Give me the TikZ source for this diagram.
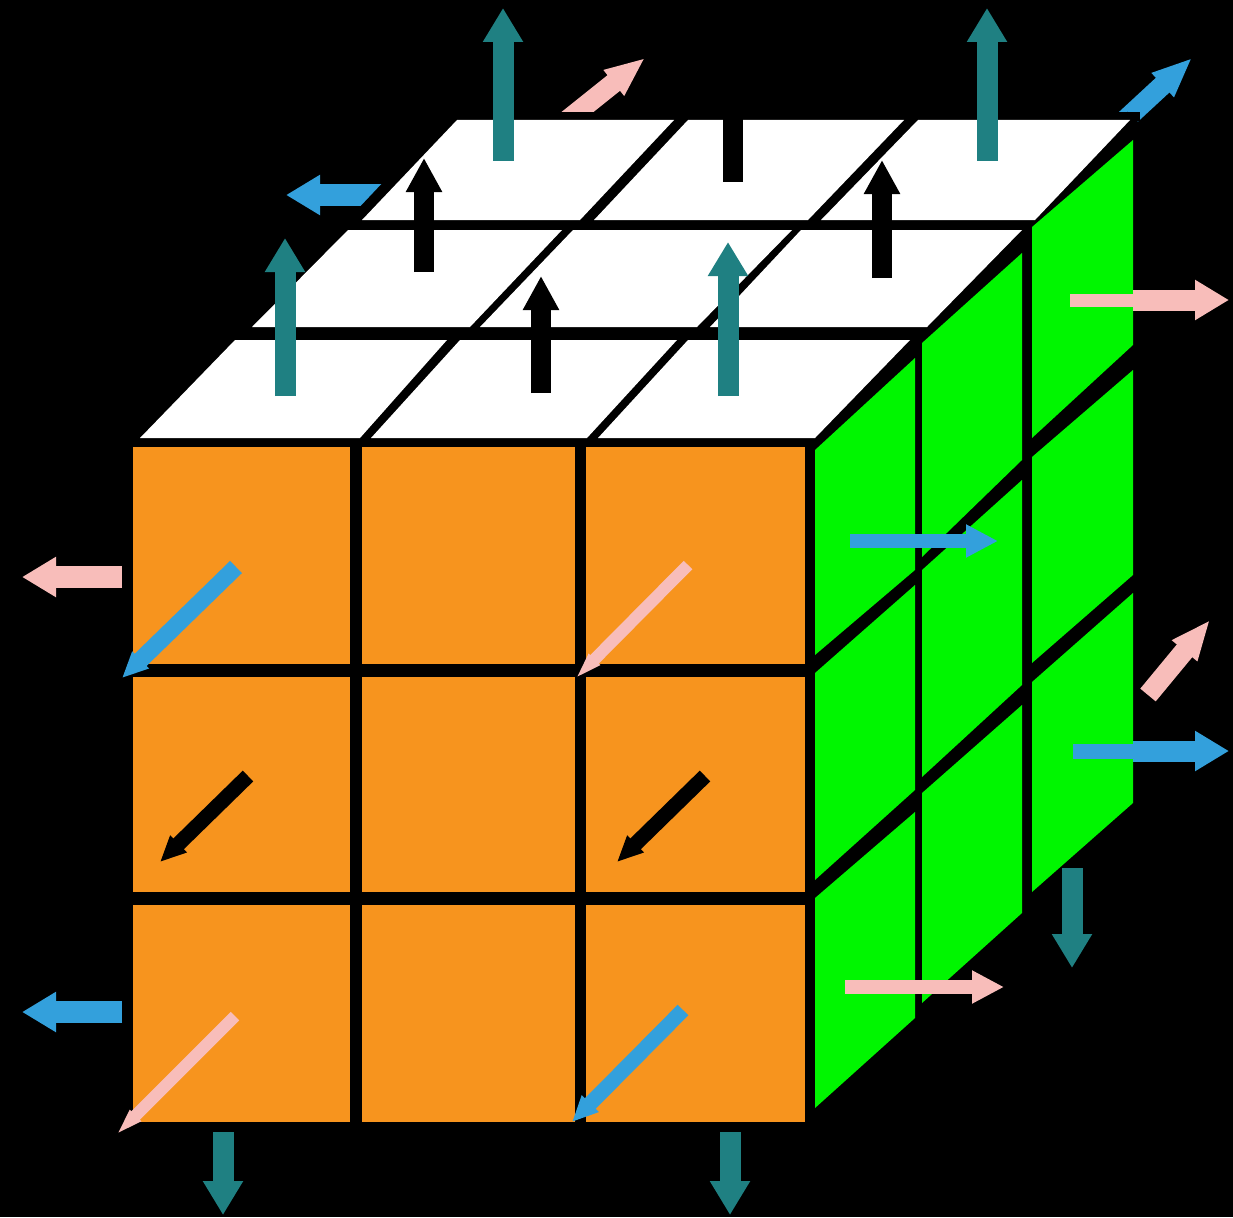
\documentclass[tikz,border=0pt]{standalone}
\usetikzlibrary{arrows.meta}
\definecolor{cteal}{HTML}{1F8082}
\definecolor{cpink}{HTML}{F8BDBA}
\definecolor{cblue}{HTML}{33A0DC}
\definecolor{corange}{HTML}{F7941E}
\definecolor{cgreen}{HTML}{00F600}
\tikzset{
  arrowbase/.style={line width=21pt,-{Triangle[width=38pt,length=34pt]}},
  blackarrow/.style={line width=20pt,-{Triangle[width=34pt,length=34pt]}},
  thinarrow/.style={line width=14pt,-{Triangle[width=31pt,length=32pt]}},
  squatarrow/.style={line width=20pt,-{Triangle[width=30pt,length=40pt]}},
  diagarrow/.style={line width=15pt,-{Triangle[width=22pt,length=26pt]}},
  fineline/.style={line width=12pt,-{Triangle[width=13pt,length=32pt]}},
  topcell/.style={fill=white},
  sidecell/.style={fill=cgreen},
  frontcell/.style={fill=corange},
}
\begin{document}
\begin{tikzpicture}[x=1pt,y=-1pt]
\fill[black] (0,0) rectangle (1233,1217);
\useasboundingbox (0,0) rectangle (1233,1217);
% arrows lying behind the top face
\draw[arrowbase,cblue,line width=21pt] (400,195) -- (286,195);
\draw[squatarrow,cpink] (565,122) -- (645,58);
\draw[squatarrow,cblue] (1112,132) -- (1192,58);
\fill[black] (450,112) rectangle (1140,121);
\draw[black,line width=22pt] (357,226) -- (457,120);
\draw[black,line width=18pt] (1134,118) -- (1035,220);
% front face
\fill[frontcell] (133,447) rectangle (350,664);
\fill[frontcell] (362,447) rectangle (575,664);
\fill[frontcell] (586,447) rectangle (805,664);
\fill[frontcell] (133,677) rectangle (350,892);
\fill[frontcell] (362,677) rectangle (575,892);
\fill[frontcell] (586,677) rectangle (805,892);
\fill[frontcell] (133,905) rectangle (350,1122);
\fill[frontcell] (362,905) rectangle (575,1122);
\fill[frontcell] (586,905) rectangle (805,1122);
% top face
\fill[topcell] (362,220) -- (457,120) -- (674,120) -- (580,220) -- cycle;
\fill[topcell] (594,220) -- (688,120) -- (904,120) -- (808,220) -- cycle;
\fill[topcell] (821,220) -- (918,120) -- (1130,120) -- (1035,220) -- cycle;
\fill[topcell] (252,327) -- (348,230) -- (562,230) -- (470,327) -- cycle;
\fill[topcell] (480,327) -- (573,230) -- (792,230) -- (697,327) -- cycle;
\fill[topcell] (710,327) -- (801,230) -- (1022,230) -- (927,327) -- cycle;
\fill[topcell] (140,438) -- (235,340) -- (447,340) -- (360,438) -- cycle;
\fill[topcell] (371,438) -- (460,340) -- (677,340) -- (587,438) -- cycle;
\fill[topcell] (598,438) -- (688,340) -- (910,340) -- (815,438) -- cycle;
% right face
\fill[sidecell] (815,450) -- (915,358) -- (915,570) -- (815,655) -- cycle;
\fill[sidecell] (815,673) -- (915,585) -- (915,790) -- (815,880) -- cycle;
\fill[sidecell] (815,898) -- (915,812) -- (915,1018) -- (815,1108) -- cycle;
\fill[sidecell] (922,343) -- (1022,253) -- (1022,460) -- (922,557) -- cycle;
\fill[sidecell] (922,570) -- (1022,480) -- (1022,685) -- (922,777) -- cycle;
\fill[sidecell] (922,793) -- (1022,705) -- (1022,913) -- (922,1003) -- cycle;
\fill[sidecell] (1032,227) -- (1133,140) -- (1133,345) -- (1032,438) -- cycle;
\fill[sidecell] (1032,457) -- (1133,370) -- (1133,575) -- (1032,663) -- cycle;
\fill[sidecell] (1032,682) -- (1133,593) -- (1133,803) -- (1032,892) -- cycle;
% teal arrows
\draw[arrowbase,cteal] (503,161) -- (503,8);
\draw[arrowbase,cteal] (987,161) -- (987,8);
\draw[arrowbase,cteal] (285,396) -- (285,238);
\draw[arrowbase,cteal] (728,396) -- (728,242);
\draw[arrowbase,cteal] (223,1132) -- (223,1215);
\draw[arrowbase,cteal] (730,1132) -- (730,1215);
\draw[arrowbase,cteal] (1072,868) -- (1072,968);
% black arrows
\draw[black,line width=20pt] (733,182) -- (733,118);
\draw[blackarrow] (424,272) -- (424,158);
\draw[blackarrow] (882,278) -- (882,160);
\draw[blackarrow] (541,393) -- (541,276);
\draw[diagarrow,black] (248,776) -- (160,862);
\draw[diagarrow,black] (705,776) -- (617,862);
% blue arrows
\draw[thinarrow,cblue] (850,541) -- (998,541);
\draw[diagarrow,cblue,line width=17pt] (236,567) -- (122,678);
\draw[line width=15pt,cblue] (1073,751) -- (1140,751);
\draw[arrowbase,cblue] (1133,751) -- (1229,751);
\draw[arrowbase,cblue,line width=22pt] (122,1012) -- (22,1012);
\draw[diagarrow,cblue,line width=15pt] (683,1010) -- (572,1122);
% pink arrows
\draw[line width=13pt,cpink] (1070,300) -- (1140,300);
\draw[arrowbase,cpink] (1133,300) -- (1229,300);
\draw[arrowbase,cpink,line width=22pt] (122,577) -- (22,577);
\draw[fineline,cpink] (688,565) -- (572,682);
\draw[fineline,cpink] (235,1016) -- (113,1138);
\draw[thinarrow,cpink] (845,987) -- (1004,987);
\draw[squatarrow,cpink] (1148,695) -- (1210,620);
\end{tikzpicture}
\end{document}
